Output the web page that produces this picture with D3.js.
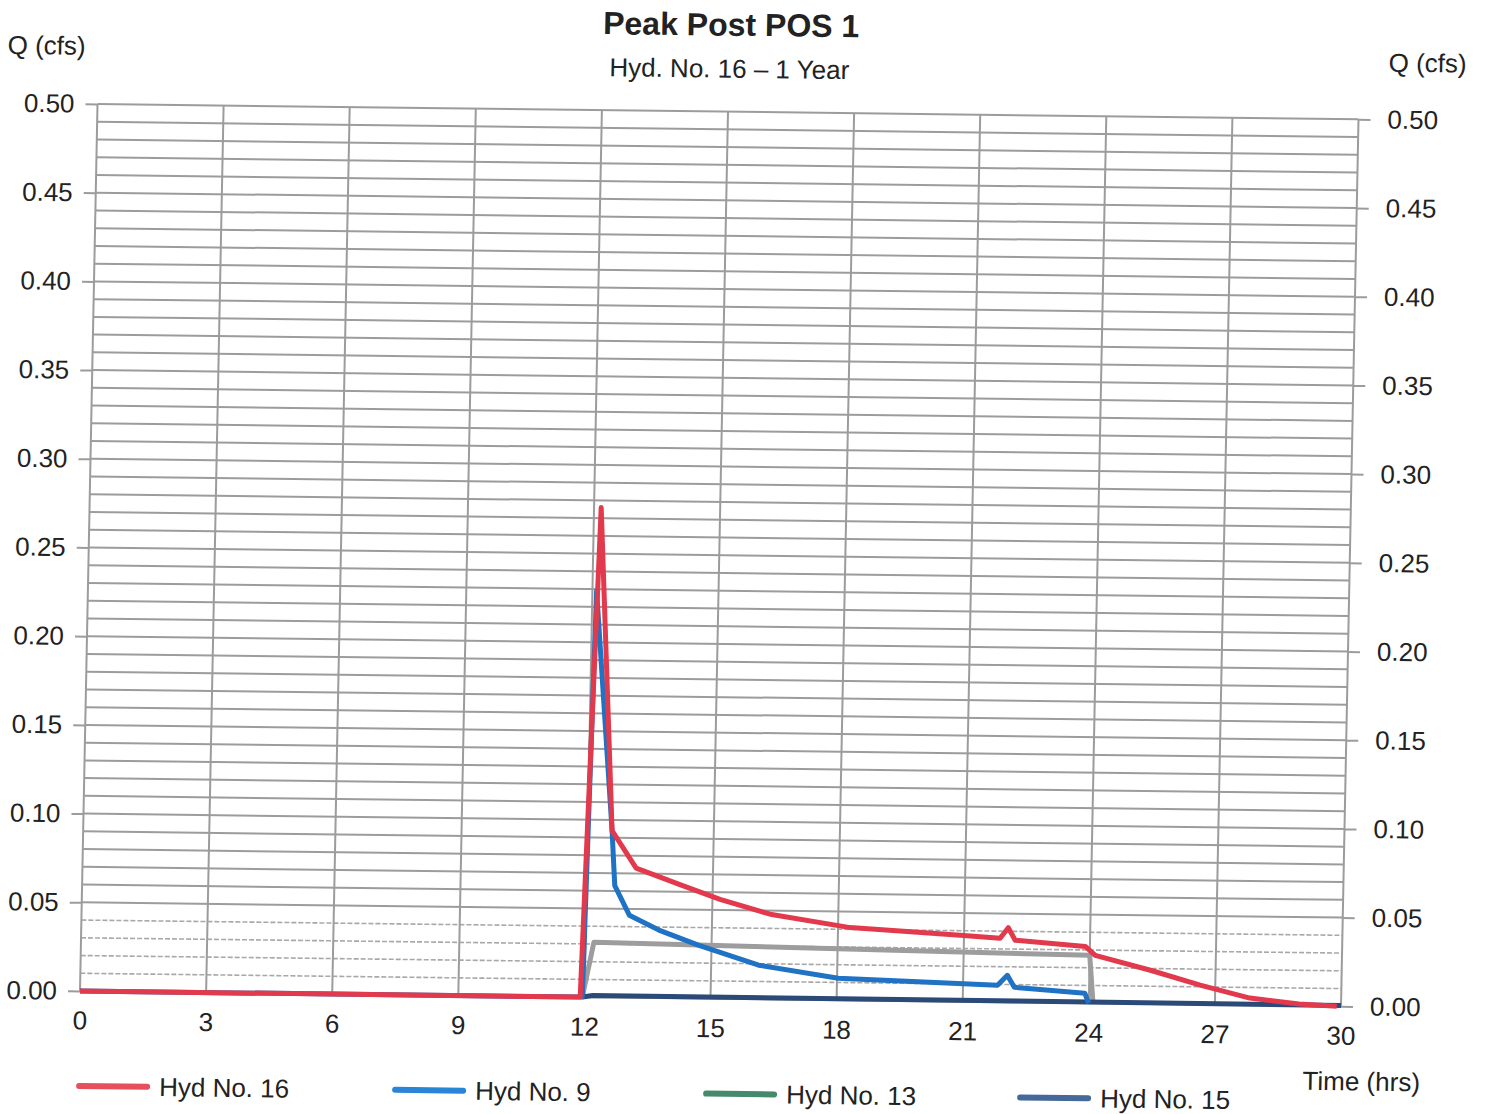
<!DOCTYPE html>
<html lang="en">
<head>
  <meta charset="UTF-8">
  <title>Peak Post POS 1</title>
  <script src="https://d3js.org/d3.v7.min.js"></script>
  <style>
    body { margin: 0; background: #fff; }
    text { font-family: "Liberation Sans", Arial, sans-serif; fill: #222; }
  </style>
</head>
<body>
<div id="chart"></div>

<script>
// Hydrograph values (time in hrs, Q in cfs)
const time16 = [0, 11.9, 12.17, 12.58, 13.17, 14.22, 15.18, 16.38, 18.29, 20.91, 21.86, 22.05, 22.22, 23.89, 24.13, 25.45, 26.64, 27.83, 29.0, 29.9];
const q16    = [0, 0, 0.276, 0.094, 0.073, 0.064, 0.056, 0.048, 0.041, 0.0375, 0.036, 0.042, 0.035, 0.032, 0.027, 0.019, 0.011, 0.004, 0.001, 0];

const time9 = [0, 11.95, 12.1, 12.58, 12.67, 13.03, 13.74, 14.7, 16.13, 18.03, 21.82, 22.05, 22.22, 23.9, 24.0];
const q9    = [0, 0, 0.229, 0.094, 0.063, 0.0465, 0.0383, 0.0299, 0.0192, 0.0124, 0.0095, 0.0152, 0.0085, 0.0056, 0];

const time13 = [11.95, 12.2, 24.0, 24.1];
const q13    = [0, 0.031, 0.027, 0];

const time15 = [11.95, 12.2, 30];
const q15    = [0, 0.001, 0.0005];

const xTicks = [0, 3, 6, 9, 12, 15, 18, 21, 24, 27, 30];
const yTicks = [0, 0.05, 0.1, 0.15, 0.2, 0.25, 0.3, 0.35, 0.4, 0.45, 0.5];
const yMinor = d3.range(0, 51).map(d => d / 100);

const seriesNames = ["Hyd No. 16", "Hyd No. 9", "Hyd No. 13", "Hyd No. 15"];
const legendColors = ["#e5505c", "#2a84d8", "#468a6c", "#46699a"];

const width = 1487, height = 1114;
const plotW = 1261, plotH = 887;

const svg = d3.select("#chart").append("svg")
  .attr("width", width)
  .attr("height", height);

// the scan is slightly skewed, so the whole chart sits in a sheared group
const g = svg.append("g")
  .attr("transform", "matrix(1,0.01213,-0.01973,1,97.5,104)");

const x = d3.scaleLinear().domain([0, 30]).range([0, plotW]);
const y = d3.scaleLinear().domain([0, 0.5]).range([plotH, 0]);

// horizontal grid every 0.01
g.append("g").selectAll("line")
  .data(yMinor)
  .enter().append("line")
  .attr("x1", 0).attr("x2", plotW)
  .attr("y1", d => y(d)).attr("y2", d => y(d))
  .attr("stroke", d => (d > 0 && d < 0.05) ? "#a8a8a8" : "#9c9c9c")
  .attr("stroke-width", d => (d > 0 && d < 0.05) ? 1.6 : 2)
  .attr("stroke-dasharray", d => (d > 0 && d < 0.05) ? "5,2" : null);

// vertical grid every 3 hrs
g.append("g").selectAll("line")
  .data(xTicks)
  .enter().append("line")
  .attr("x1", d => x(d)).attr("x2", d => x(d))
  .attr("y1", 0).attr("y2", plotH)
  .attr("stroke", "#9c9c9c")
  .attr("stroke-width", 2);

// left / right axes (ticks only, labels styled by hand)
const leftAxis = d3.axisLeft(y).tickValues(yTicks).tickFormat(d3.format(".2f")).tickSize(12).tickPadding(11);
const rightAxis = d3.axisRight(y).tickValues(yTicks).tickFormat(d3.format(".2f")).tickSize(12).tickPadding(17);
const bottomAxis = d3.axisBottom(x).tickValues(xTicks).tickSize(0).tickPadding(20);

function styleAxis(sel) {
  sel.select(".domain").remove();
  sel.selectAll(".tick line").attr("stroke", "#9c9c9c").attr("stroke-width", 2);
  sel.selectAll(".tick text").style("font-size", "26px").attr("fill", "#222");
}

g.append("g").call(leftAxis).call(styleAxis);
g.append("g").attr("transform", `translate(${plotW},0)`).call(rightAxis).call(styleAxis);
g.append("g").attr("transform", `translate(0,${plotH})`).call(bottomAxis).call(styleAxis);

// series
const line = d3.line().x(d => x(d[0])).y(d => y(d[1]));
const zip = (t, q) => t.map((d, i) => [d, q[i]]);

const drawn = [
  { data: zip(time13, q13), color: "#9d9d9d" },
  { data: zip(time15, q15), color: "#2b4a78" },
  { data: zip(time9, q9), color: "#1f72c4" },
  { data: zip(time16, q16), color: "#e23a4c" }
];

g.append("g").selectAll("path")
  .data(drawn)
  .enter().append("path")
  .attr("d", d => line(d.data))
  .attr("fill", "none")
  .attr("stroke", d => d.color)
  .attr("stroke-width", 5)
  .attr("stroke-linejoin", "round");

// titles
g.append("text")
  .attr("x", 632).attr("y", -76)
  .attr("text-anchor", "middle")
  .style("font-size", "32px").style("font-weight", "bold")
  .attr("fill", "#4a4a4a")
  .text("Peak Post POS 1");

g.append("text")
  .attr("x", 631).attr("y", -34)
  .attr("text-anchor", "middle")
  .style("font-size", "26px")
  .attr("fill", "#333")
  .text("Hyd. No. 16 \u2013 1 Year");

g.append("text")
  .attr("x", -91).attr("y", -49)
  .style("font-size", "26px")
  .text("Q (cfs)");

g.append("text")
  .attr("x", 1290).attr("y", -48)
  .style("font-size", "26px")
  .text("Q (cfs)");

g.append("text")
  .attr("x", 1224).attr("y", 971)
  .style("font-size", "26px")
  .text("Time (hrs)");

// legend
const legend = g.append("g").selectAll("g")
  .data(seriesNames)
  .enter().append("g")
  .attr("transform", (d, i) => `translate(${[1, 317, 628, 942][i]},982)`);

legend.append("line")
  .attr("x1", 0).attr("x2", 68)
  .attr("stroke", (d, i) => legendColors[i])
  .attr("stroke-width", 6)
  .attr("stroke-linecap", "round");

legend.append("text")
  .attr("x", 80).attr("y", 9)
  .style("font-size", "26px")
  .text(d => d);
</script>

</body>
</html>
